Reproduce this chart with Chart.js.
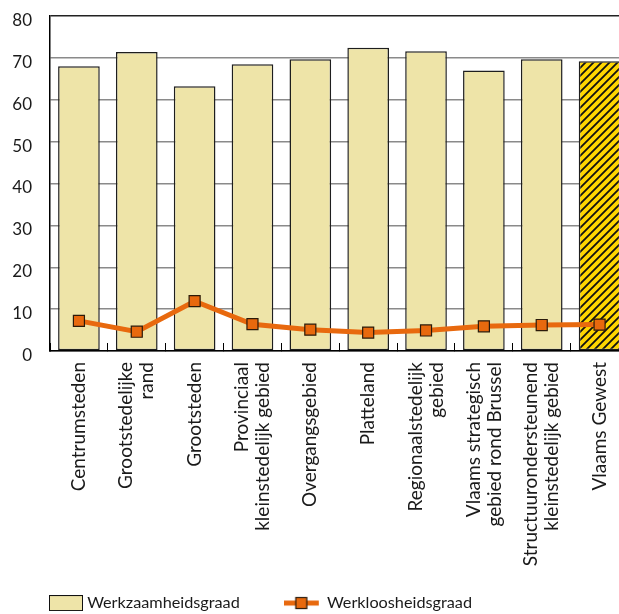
<!DOCTYPE html>
<html>
<head>
<meta charset="utf-8">
<script src="https://cdn.jsdelivr.net/npm/chart.js@4/dist/chart.umd.min.js"></script>
<style>
  html, body { margin: 0; padding: 0; background: #fff; overflow: hidden; }
  #wrap { position: relative; width: 640px; height: 614px; }
</style>
</head>
<body>
<div id="wrap"><canvas id="c"></canvas></div>
<script>
// ---- data ----
const categories = [
  ["Centrumsteden"],
  ["Grootstedelijke", "rand"],
  ["Grootsteden"],
  ["Provinciaal", "kleinstedelijk gebied"],
  ["Overgangsgebied"],
  ["Platteland"],
  ["Regionaalstedelijk", "gebied"],
  ["Vlaams strategisch", "gebied rond Brussel"],
  ["Structuurondersteunend", "kleinstedelijk gebied"],
  ["Vlaams Gewest"]
];
const werkzaamheidsgraad = [68.0, 71.4, 63.2, 68.5, 69.7, 72.4, 71.6, 67.0, 69.7, 69.2];
const werkloosheidsgraad = [7.2, 4.6, 11.9, 6.4, 5.1, 4.4, 4.9, 5.9, 6.2, 6.3];
const seriesNames = ["Werkzaamheidsgraad", "Werkloosheidsgraad"];
const yTicks = [0, 10, 20, 30, 40, 50, 60, 70, 80];

// ---- styles ----
const FONT = "Lato, 'Open Sans', sans-serif";
const BAR_FILL = "#EEE4A8";
const ORANGE = "#E8690E";

function makeHatch() {
  const s = 8;
  const c = document.createElement("canvas");
  c.width = s; c.height = s;
  const g = c.getContext("2d");
  g.fillStyle = "#FFD600";
  g.fillRect(0, 0, s, s);
  g.strokeStyle = "#111";
  g.lineWidth = 1.8;
  g.beginPath();
  g.moveTo(-1, s + 1); g.lineTo(s + 1, -1);
  g.moveTo(-1, 1); g.lineTo(1, -1);
  g.moveTo(s - 1, s + 1); g.lineTo(s + 1, s - 1);
  g.stroke();
  return c;
}
const ctx0 = document.getElementById("c").getContext("2d");
const hatch = ctx0.createPattern(makeHatch(), "repeat");

const barColors = werkzaamheidsgraad.map((v, i) => i === werkzaamheidsgraad.length - 1 ? hatch : BAR_FILL);

function legendBarImg() {
  const c = document.createElement("canvas");
  c.width = 37; c.height = 16;
  const g = c.getContext("2d");
  g.fillStyle = BAR_FILL; g.fillRect(0, 0, 34, 16);
  g.strokeStyle = "#111"; g.lineWidth = 1; g.strokeRect(0.5, 0.5, 33, 15);
  return c;
}
function legendLineImg() {
  const c = document.createElement("canvas");
  c.width = 47; c.height = 14;
  const g = c.getContext("2d");
  g.strokeStyle = ORANGE; g.lineWidth = 5;
  g.beginPath(); g.moveTo(0, 7); g.lineTo(35, 7); g.stroke();
  g.fillStyle = ORANGE; g.fillRect(12, 1.5, 11, 11);
  g.strokeStyle = "#2b1a0a"; g.lineWidth = 1.2; g.strokeRect(12, 1.5, 11, 11);
  return c;
}
const legendImgs = [legendBarImg(), legendLineImg()];

// draws the rotated, centred multi-line category labels below the x axis
const xLabelPlugin = {
  id: "xLabels",
  afterDraw(chart) {
    const xs = chart.scales.x;
    const ctx = chart.ctx;
    const lh = 21;
    const top = chart.chartArea.bottom + 11;
    ctx.save();
    ctx.font = "19px " + FONT;
    ctx.fillStyle = "#1a1a1a";
    ctx.textAlign = "right";
    ctx.textBaseline = "middle";
    categories.forEach((lines, i) => {
      const cx = xs.getPixelForValue(i);
      lines.forEach((t, j) => {
        const off = (j - (lines.length - 1) / 2) * lh;
        ctx.save();
        ctx.translate(cx + off, top);
        ctx.rotate(-Math.PI / 2);
        ctx.fillText(t, 0, 0);
        ctx.restore();
      });
    });
    ctx.restore();
  }
};

new Chart(ctx0, {
  type: "bar",
  data: {
    labels: categories.map(l => l.join(" ")),
    datasets: [
      {
        type: "bar",
        label: seriesNames[0],
        data: werkzaamheidsgraad,
        backgroundColor: barColors,
        borderColor: "#1e1e1e",
        borderWidth: 1.5,
        borderSkipped: false,
        barPercentage: 0.72,
        categoryPercentage: 1.0,
        order: 2
      },
      {
        type: "line",
        label: seriesNames[1],
        data: werkloosheidsgraad,
        borderColor: ORANGE,
        borderWidth: 5,
        backgroundColor: ORANGE,
        pointStyle: "rect",
        pointRadius: 7.8,
        pointBackgroundColor: ORANGE,
        pointBorderColor: "#2b1a0a",
        pointBorderWidth: 1.2,
        tension: 0,
        order: 1
      }
    ]
  },
  options: {
    responsive: true,
    maintainAspectRatio: false,
    animation: false,
    devicePixelRatio: 1,
    layout: { padding: { top: 16, left: 0, right: 11.5, bottom: 0 } },
    plugins: {
      tooltip: { enabled: false },
      legend: {
        display: true,
        position: "bottom",
        align: "start",
        maxHeight: 75.1,
        labels: {
          usePointStyle: true,
          pointStyleWidth: 23,
          padding: 56,
          color: "#1a1a1a",
          font: { family: FONT, size: 16.25 },
          generateLabels(chart) {
            return chart.data.datasets.map((ds, i) => ({
              text: ds.label,
              pointStyle: legendImgs[i],
              fillStyle: "transparent",
              strokeStyle: "transparent",
              lineWidth: 0,
              hidden: false,
              datasetIndex: i,
              fontColor: "#1a1a1a"
            }));
          }
        }
      }
    },
    scales: {
      x: {
        ticks: { display: false },
        grid: {
          display: true,
          offset: true,
          drawOnChartArea: false,
          drawTicks: true,
          tickLength: -8,
          color: "#000",
          lineWidth: 1
        },
        border: { display: true, color: "#000", width: 1.5 },
        afterFit(scale) { scale.height = 187.9; }
      },
      y: {
        min: 0,
        max: 80,
        afterBuildTicks(scale) { scale.ticks = yTicks.map(v => ({ value: v })); },
        ticks: {
          padding: 18,
          labelOffset: 4.5,
          color: "#1a1a1a",
          font: { family: FONT, size: 17 }
        },
        grid: {
          drawTicks: false,
          color: ctx => (ctx.tick && ctx.tick.value === 80) ? "#222" : "#8a8a8a",
          lineWidth: 1.5
        },
        border: { display: true, color: "#000", width: 1.5 },
        afterFit(scale) {
          scale.width = 50;
          scale.paddingTop = 0;
          scale.paddingBottom = 0;
        }
      }
    }
  },
  plugins: [xLabelPlugin]
});
</script>
</body>
</html>
